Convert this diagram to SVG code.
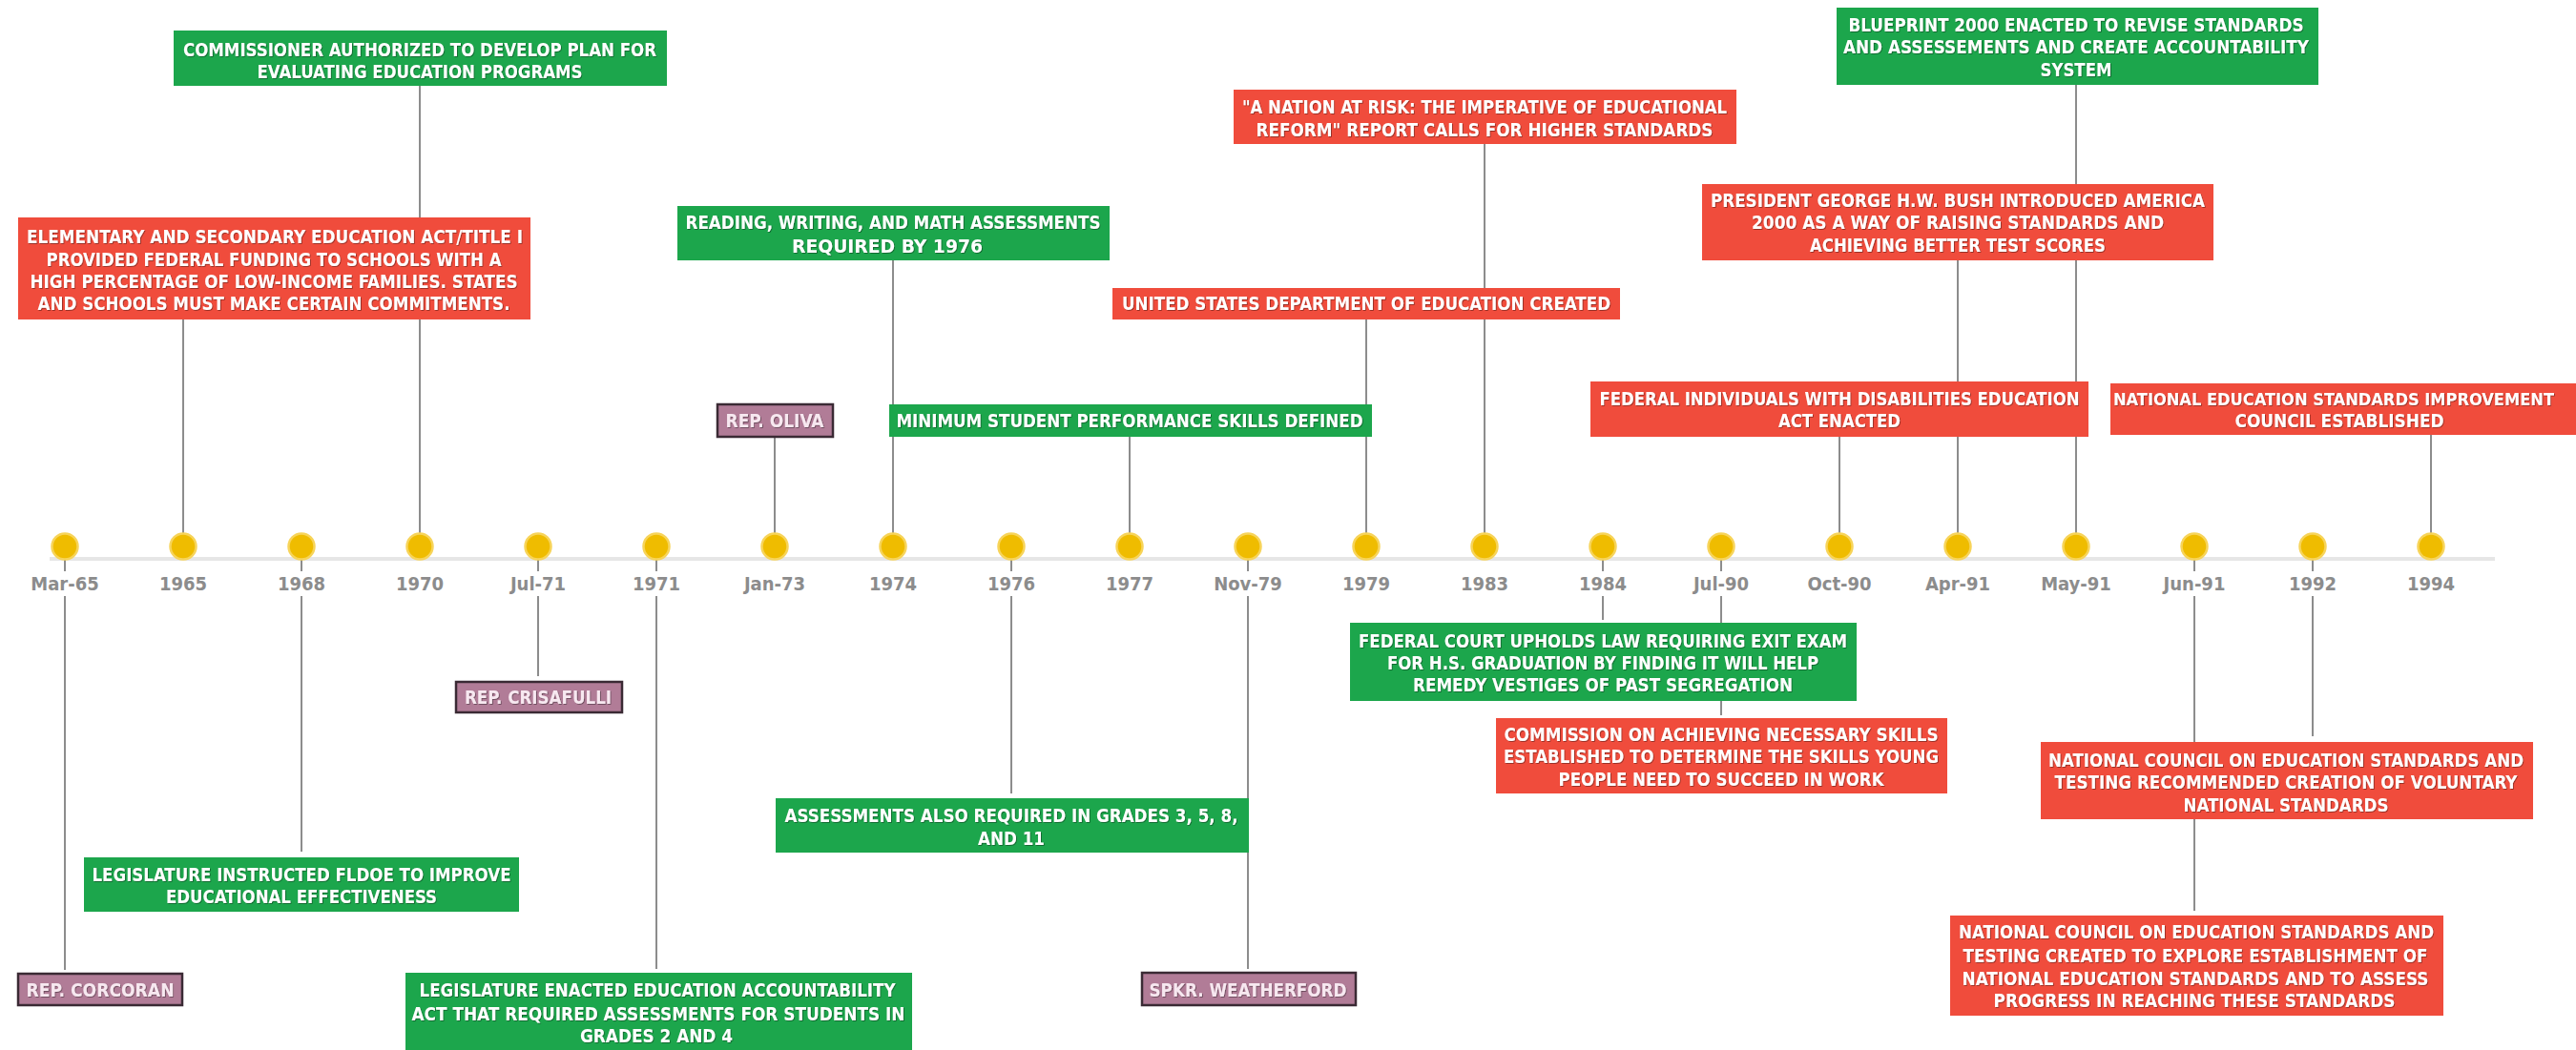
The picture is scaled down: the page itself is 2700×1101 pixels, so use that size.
<svg xmlns="http://www.w3.org/2000/svg" width="2700" height="1101" viewBox="0 0 2700 1101">
<defs>
<style>
.bg{fill:#ffffff}
.g{fill:#1ca64c}
.r{fill:#f04c3c}
.p{fill:#b17c97;stroke:#3a2a34;stroke-width:2.5}
.t{font-family:"DejaVu Sans Condensed","DejaVu Sans",sans-serif;font-stretch:condensed;font-weight:bold;font-size:19.5px;fill:#ffffff;text-anchor:middle;filter:url(#sh)}
.tp{font-family:"DejaVu Sans Condensed","DejaVu Sans",sans-serif;font-stretch:condensed;font-weight:bold;font-size:19.5px;fill:#f7e8f0;text-anchor:middle;filter:url(#sh)}
.lab{font-family:"DejaVu Sans Condensed","DejaVu Sans",sans-serif;font-stretch:condensed;font-weight:bold;font-size:20px;fill:#8c8c8c;text-anchor:middle}
.c{stroke:#707070;stroke-width:1.6;fill:none}
.axis{stroke:#e6e6e6;stroke-width:4}
.dot{fill:#efbc00;stroke:#f7d45a;stroke-width:2.5}
</style>
<filter id="sh" x="-2%" y="-30%" width="104%" height="160%">
<feDropShadow dx="0.8" dy="0.8" stdDeviation="0.5" flood-color="#000000" flood-opacity="0.45"/>
</filter>
</defs>
<rect class="bg" x="0" y="0" width="2700" height="1101"/>

<g id="timeline">
<line class="axis" x1="52" y1="586" x2="2615" y2="586"/>
</g>

<g id="connectors">
<line class="c" x1="192" y1="335" x2="192" y2="573"/>
<line class="c" x1="440" y1="90" x2="440" y2="573"/>
<line class="c" x1="812" y1="458" x2="812" y2="573"/>
<line class="c" x1="936" y1="273" x2="936" y2="573"/>
<line class="c" x1="1184" y1="458" x2="1184" y2="573"/>
<line class="c" x1="1432" y1="335" x2="1432" y2="573"/>
<line class="c" x1="1556" y1="151" x2="1556" y2="573"/>
<line class="c" x1="1928" y1="458" x2="1928" y2="573"/>
<line class="c" x1="2052" y1="273" x2="2052" y2="573"/>
<line class="c" x1="2176" y1="89" x2="2176" y2="573"/>
<line class="c" x1="2548" y1="456" x2="2548" y2="573"/>
<line class="c" x1="68" y1="573" x2="68" y2="599"/><line class="c" x1="68" y1="625" x2="68" y2="1017"/>
<line class="c" x1="316" y1="573" x2="316" y2="599"/><line class="c" x1="316" y1="625" x2="316" y2="893"/>
<line class="c" x1="564" y1="573" x2="564" y2="599"/><line class="c" x1="564" y1="625" x2="564" y2="709"/>
<line class="c" x1="688" y1="573" x2="688" y2="599"/><line class="c" x1="688" y1="625" x2="688" y2="1016"/>
<line class="c" x1="1060" y1="573" x2="1060" y2="599"/><line class="c" x1="1060" y1="625" x2="1060" y2="832"/>
<line class="c" x1="1308" y1="573" x2="1308" y2="599"/><line class="c" x1="1308" y1="625" x2="1308" y2="1016"/>
<line class="c" x1="1680" y1="573" x2="1680" y2="599"/><line class="c" x1="1680" y1="625" x2="1680" y2="650"/>
<line class="c" x1="1804" y1="573" x2="1804" y2="599"/><line class="c" x1="1804" y1="625" x2="1804" y2="750"/>
<line class="c" x1="2300" y1="573" x2="2300" y2="599"/><line class="c" x1="2300" y1="625" x2="2300" y2="955"/>
<line class="c" x1="2424" y1="573" x2="2424" y2="599"/><line class="c" x1="2424" y1="625" x2="2424" y2="772"/>
</g>

<g id="dates">
<circle class="dot" cx="68" cy="573" r="13.5"/><text class="lab" x="68" y="619">Mar-65</text>
<circle class="dot" cx="192" cy="573" r="13.5"/><text class="lab" x="192" y="619">1965</text>
<circle class="dot" cx="316" cy="573" r="13.5"/><text class="lab" x="316" y="619">1968</text>
<circle class="dot" cx="440" cy="573" r="13.5"/><text class="lab" x="440" y="619">1970</text>
<circle class="dot" cx="564" cy="573" r="13.5"/><text class="lab" x="564" y="619">Jul-71</text>
<circle class="dot" cx="688" cy="573" r="13.5"/><text class="lab" x="688" y="619">1971</text>
<circle class="dot" cx="812" cy="573" r="13.5"/><text class="lab" x="812" y="619">Jan-73</text>
<circle class="dot" cx="936" cy="573" r="13.5"/><text class="lab" x="936" y="619">1974</text>
<circle class="dot" cx="1060" cy="573" r="13.5"/><text class="lab" x="1060" y="619">1976</text>
<circle class="dot" cx="1184" cy="573" r="13.5"/><text class="lab" x="1184" y="619">1977</text>
<circle class="dot" cx="1308" cy="573" r="13.5"/><text class="lab" x="1308" y="619">Nov-79</text>
<circle class="dot" cx="1432" cy="573" r="13.5"/><text class="lab" x="1432" y="619">1979</text>
<circle class="dot" cx="1556" cy="573" r="13.5"/><text class="lab" x="1556" y="619">1983</text>
<circle class="dot" cx="1680" cy="573" r="13.5"/><text class="lab" x="1680" y="619">1984</text>
<circle class="dot" cx="1804" cy="573" r="13.5"/><text class="lab" x="1804" y="619">Jul-90</text>
<circle class="dot" cx="1928" cy="573" r="13.5"/><text class="lab" x="1928" y="619">Oct-90</text>
<circle class="dot" cx="2052" cy="573" r="13.5"/><text class="lab" x="2052" y="619">Apr-91</text>
<circle class="dot" cx="2176" cy="573" r="13.5"/><text class="lab" x="2176" y="619">May-91</text>
<circle class="dot" cx="2300" cy="573" r="13.5"/><text class="lab" x="2300" y="619">Jun-91</text>
<circle class="dot" cx="2424" cy="573" r="13.5"/><text class="lab" x="2424" y="619">1992</text>
<circle class="dot" cx="2548" cy="573" r="13.5"/><text class="lab" x="2548" y="619">1994</text>
</g>

<g id="n-commissioner">
<rect class="g" x="182" y="32" width="517" height="58"/>
<text class="t" x="440" y="59" textLength="496" lengthAdjust="spacingAndGlyphs">COMMISSIONER AUTHORIZED TO DEVELOP PLAN FOR</text>
<text class="t" x="440" y="82" textLength="341" lengthAdjust="spacingAndGlyphs">EVALUATING EDUCATION PROGRAMS</text>
</g>

<g id="n-esea">
<rect class="r" x="19" y="228" width="537" height="107"/>
<text class="t" x="288" y="255" textLength="520" lengthAdjust="spacingAndGlyphs">ELEMENTARY AND SECONDARY EDUCATION ACT/TITLE I</text>
<text class="t" x="287" y="278.5" textLength="477" lengthAdjust="spacingAndGlyphs">PROVIDED FEDERAL FUNDING TO SCHOOLS WITH A</text>
<text class="t" x="287" y="302" textLength="511" lengthAdjust="spacingAndGlyphs">HIGH PERCENTAGE OF LOW-INCOME FAMILIES. STATES</text>
<text class="t" x="287" y="325" textLength="495" lengthAdjust="spacingAndGlyphs">AND SCHOOLS MUST MAKE CERTAIN COMMITMENTS.</text>
</g>

<g id="n-reading">
<rect class="g" x="710" y="216" width="453" height="57"/>
<text class="t" x="936" y="240" textLength="435" lengthAdjust="spacingAndGlyphs">READING, WRITING, AND MATH ASSESSMENTS</text>
<text class="t" x="930" y="265" textLength="200" lengthAdjust="spacingAndGlyphs">REQUIRED BY 1976</text>
</g>

<g id="n-nation">
<rect class="r" x="1293" y="94" width="527" height="57"/>
<text class="t" x="1556" y="119" textLength="508" lengthAdjust="spacingAndGlyphs">"A NATION AT RISK: THE IMPERATIVE OF EDUCATIONAL</text>
<text class="t" x="1556" y="143" textLength="479" lengthAdjust="spacingAndGlyphs">REFORM" REPORT CALLS FOR HIGHER STANDARDS</text>
</g>

<g id="n-usde">
<rect class="r" x="1166" y="302" width="532" height="33"/>
<text class="t" x="1432" y="325" textLength="512" lengthAdjust="spacingAndGlyphs">UNITED STATES DEPARTMENT OF EDUCATION CREATED</text>
</g>

<g id="n-blueprint">
<rect class="g" x="1925" y="8" width="505" height="81"/>
<text class="t" x="2176" y="33" textLength="477" lengthAdjust="spacingAndGlyphs">BLUEPRINT 2000 ENACTED TO REVISE STANDARDS</text>
<text class="t" x="2176" y="56" textLength="488" lengthAdjust="spacingAndGlyphs">AND ASSESSEMENTS AND CREATE ACCOUNTABILITY</text>
<text class="t" x="2176" y="80" textLength="75" lengthAdjust="spacingAndGlyphs">SYSTEM</text>
</g>

<g id="n-bush">
<rect class="r" x="1784" y="193" width="536" height="80"/>
<text class="t" x="2052" y="217" textLength="518" lengthAdjust="spacingAndGlyphs">PRESIDENT GEORGE H.W. BUSH INTRODUCED AMERICA</text>
<text class="t" x="2052" y="240" textLength="432" lengthAdjust="spacingAndGlyphs">2000 AS A WAY OF RAISING STANDARDS AND</text>
<text class="t" x="2052" y="264" textLength="310" lengthAdjust="spacingAndGlyphs">ACHIEVING BETTER TEST SCORES</text>
</g>

<g id="n-minimum">
<rect class="g" x="932" y="424" width="506" height="34"/>
<text class="t" x="1184" y="448" textLength="489" lengthAdjust="spacingAndGlyphs">MINIMUM STUDENT PERFORMANCE SKILLS DEFINED</text>
</g>

<g id="n-oliva">
<rect class="p" x="752" y="424" width="121" height="34"/>
<text class="tp" x="812" y="448" textLength="103" lengthAdjust="spacingAndGlyphs">REP. OLIVA</text>
</g>

<g id="n-idea">
<rect class="r" x="1667" y="400" width="522" height="58"/>
<text class="t" x="1928" y="425" textLength="503" lengthAdjust="spacingAndGlyphs">FEDERAL INDIVIDUALS WITH DISABILITIES EDUCATION</text>
<text class="t" x="1928" y="448" textLength="128" lengthAdjust="spacingAndGlyphs">ACT ENACTED</text>
</g>

<g id="n-nesic">
<rect class="r" x="2212" y="402" width="488" height="54"/>
<text class="t" x="2446" y="425" font-size="18" style="font-size:18px" textLength="462" lengthAdjust="spacingAndGlyphs">NATIONAL EDUCATION STANDARDS IMPROVEMENT</text>
<text class="t" x="2452" y="448" textLength="219" lengthAdjust="spacingAndGlyphs">COUNCIL ESTABLISHED</text>
</g>

<g id="n-corcoran">
<rect class="p" x="19" y="1021" width="172" height="33"/>
<text class="tp" x="105" y="1044.5" textLength="155" lengthAdjust="spacingAndGlyphs">REP. CORCORAN</text>
</g>

<g id="n-fldoe">
<rect class="g" x="88" y="899" width="456" height="57"/>
<text class="t" x="316" y="923.5" textLength="439" lengthAdjust="spacingAndGlyphs">LEGISLATURE INSTRUCTED FLDOE TO IMPROVE</text>
<text class="t" x="316" y="947" textLength="284" lengthAdjust="spacingAndGlyphs">EDUCATIONAL EFFECTIVENESS</text>
</g>

<g id="n-crisafulli">
<rect class="p" x="478" y="715" width="174" height="32"/>
<text class="tp" x="564" y="738" textLength="154" lengthAdjust="spacingAndGlyphs">REP. CRISAFULLI</text>
</g>

<g id="n-accountability">
<rect class="g" x="425" y="1020" width="531" height="81"/>
<text class="t" x="689" y="1045" textLength="499" lengthAdjust="spacingAndGlyphs">LEGISLATURE ENACTED EDUCATION ACCOUNTABILITY</text>
<text class="t" x="690" y="1069.5" textLength="517" lengthAdjust="spacingAndGlyphs">ACT THAT REQUIRED ASSESSMENTS FOR STUDENTS IN</text>
<text class="t" x="688" y="1093" textLength="160" lengthAdjust="spacingAndGlyphs">GRADES 2 AND 4</text>
</g>

<g id="n-grades">
<rect class="g" x="813" y="837" width="496" height="57"/>
<text class="t" x="1060" y="862" textLength="475" lengthAdjust="spacingAndGlyphs">ASSESSMENTS ALSO REQUIRED IN GRADES 3, 5, 8,</text>
<text class="t" x="1060" y="886" textLength="70" lengthAdjust="spacingAndGlyphs">AND 11</text>
</g>

<g id="n-weatherford">
<rect class="p" x="1197" y="1020" width="224" height="34"/>
<text class="tp" x="1308" y="1044.5" textLength="207" lengthAdjust="spacingAndGlyphs">SPKR. WEATHERFORD</text>
</g>

<g id="n-court">
<rect class="g" x="1415" y="653" width="531" height="82"/>
<text class="t" x="1680" y="679" textLength="512" lengthAdjust="spacingAndGlyphs">FEDERAL COURT UPHOLDS LAW REQUIRING EXIT EXAM</text>
<text class="t" x="1680" y="702" textLength="452" lengthAdjust="spacingAndGlyphs">FOR H.S. GRADUATION BY FINDING IT WILL HELP</text>
<text class="t" x="1680" y="725" textLength="398" lengthAdjust="spacingAndGlyphs">REMEDY VESTIGES OF PAST SEGREGATION</text>
</g>

<g id="n-scans">
<rect class="r" x="1568" y="753" width="473" height="79"/>
<text class="t" x="1804" y="777" textLength="455" lengthAdjust="spacingAndGlyphs">COMMISSION ON ACHIEVING NECESSARY SKILLS</text>
<text class="t" x="1804" y="800" textLength="456" lengthAdjust="spacingAndGlyphs">ESTABLISHED TO DETERMINE THE SKILLS YOUNG</text>
<text class="t" x="1804" y="824" textLength="341" lengthAdjust="spacingAndGlyphs">PEOPLE NEED TO SUCCEED IN WORK</text>
</g>

<g id="n-ncest-recommended">
<rect class="r" x="2139" y="778" width="516" height="81"/>
<text class="t" x="2396" y="803.5" textLength="498" lengthAdjust="spacingAndGlyphs">NATIONAL COUNCIL ON EDUCATION STANDARDS AND</text>
<text class="t" x="2396" y="827" textLength="485" lengthAdjust="spacingAndGlyphs">TESTING RECOMMENDED CREATION OF VOLUNTARY</text>
<text class="t" x="2396" y="851" textLength="215" lengthAdjust="spacingAndGlyphs">NATIONAL STANDARDS</text>
</g>

<g id="n-ncest-created">
<rect class="r" x="2044" y="960" width="517" height="105"/>
<text class="t" x="2302" y="984" textLength="498" lengthAdjust="spacingAndGlyphs">NATIONAL COUNCIL ON EDUCATION STANDARDS AND</text>
<text class="t" x="2301" y="1008.5" textLength="487" lengthAdjust="spacingAndGlyphs">TESTING CREATED TO EXPLORE ESTABLISHMENT OF</text>
<text class="t" x="2301" y="1032.5" textLength="489" lengthAdjust="spacingAndGlyphs">NATIONAL EDUCATION STANDARDS AND TO ASSESS</text>
<text class="t" x="2300" y="1056" textLength="421" lengthAdjust="spacingAndGlyphs">PROGRESS IN REACHING THESE STANDARDS</text>
</g>
</svg>
